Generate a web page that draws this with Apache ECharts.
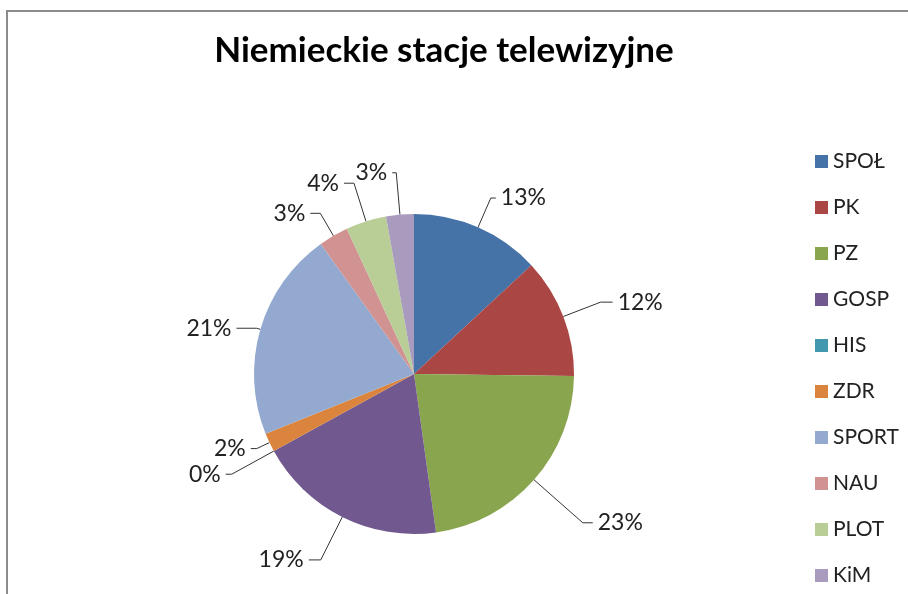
<!DOCTYPE html>
<html>
<head>
<meta charset="utf-8">
<script src="https://cdn.jsdelivr.net/npm/echarts@6/dist/echarts.min.js"></script>
<style>
  html, body { margin: 0; padding: 0; background: #fff; }
  #chart { width: 908px; height: 594px; }
  #frame { position: absolute; left: 6px; top: 10px; right: -4px; bottom: -4px; border-left: 2px solid #8c8c8c; border-top: 2px solid #8c8c8c; pointer-events: none; }
</style>
</head>
<body>
<div id="chart"></div>
<div id="frame"></div>
<script>
// categories and shares (percent of channels)
var categories = ['SPOŁ', 'PK', 'PZ', 'GOSP', 'HIS', 'ZDR', 'SPORT', 'NAU', 'PLOT', 'KiM'];
var shares = [13.1, 12.1, 22.6, 19.2, 0, 1.9, 21.2, 3.0, 4.1, 2.8];
var colors = ['#4572A7', '#AA4643', '#89A54E', '#71588F', '#4198AF', '#DB843D', '#93A9CF', '#D19392', '#B9CD96', '#A99BBD'];
// leader line lengths per slice (radial part, horizontal part) - style only
var leadLen = [32, 40, 65, 48, 48, 14, 4, 26, 40, 42];
var leadLen2 = [5, 12, 10, 12, 6, 6, 20, 10, 10, 4];

var chart = echarts.init(document.getElementById('chart'));
var font = 'Lato, "Open Sans", sans-serif';

chart.setOption({
    animation: false,
    color: colors,
    title: {
        text: 'Niemieckie stacje telewizyjne',
        left: 439, top: 28, textAlign: 'center',
        textStyle: { fontFamily: font, fontSize: 35, fontWeight: 'bold', color: '#000' }
    },
    legend: {
        orient: 'vertical',
        left: 810, top: 146,
        itemWidth: 13, itemHeight: 13, itemGap: 25,
        icon: 'rect',
        textStyle: { fontFamily: font, fontSize: 21, color: '#222' },
        data: categories
    },
    series: [{
        type: 'pie',
        center: [414, 374],
        radius: 160,
        startAngle: 90,
        percentPrecision: 0,
        avoidLabelOverlap: false,
        label: {
            show: true, position: 'outside',
            formatter: '{d}%',
            fontFamily: font, fontSize: 23, color: '#222'
        },
        labelLine: {
            show: true,
            lineStyle: { color: '#333', width: 1 }
        },
        itemStyle: { borderWidth: 0 },
        emphasis: { disabled: true },
        data: categories.map(function (c, i) {
            return { name: c, value: shares[i], labelLine: { length: leadLen[i], length2: leadLen2[i] } };
        })
    }]
});
</script>
</body>
</html>
